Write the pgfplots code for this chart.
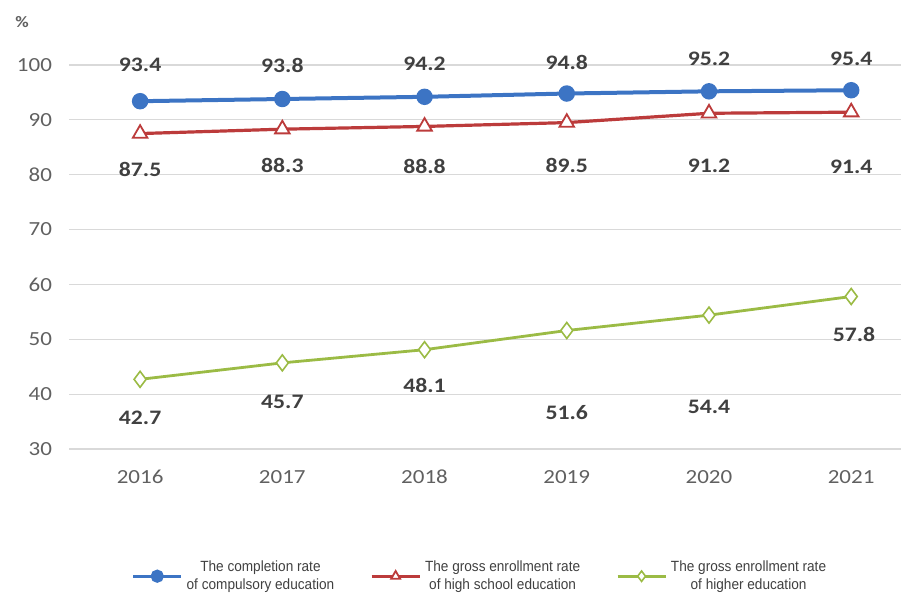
\documentclass[border=0pt]{standalone}
\usepackage{pgfplots}
\pgfplotsset{compat=1.18}
\usepackage{fontspec}
\setmainfont[FakeStretch=1.15]{Carlito}
\newfontfamily\legfont[FakeStretch=0.92]{Liberation Sans}
\definecolor{cblue}{HTML}{3C74C4}
\definecolor{cred}{HTML}{BC3B3B}
\definecolor{cgreen}{HTML}{9BBB45}
\definecolor{cgrid}{HTML}{D9D9D9}
\definecolor{ctick}{HTML}{606060}
\definecolor{clab}{HTML}{404040}
\begin{document}
\begin{tikzpicture}
\begin{axis}[
  scale only axis,
  width=416pt, height=192pt,
  xmin=2015.5, xmax=2021.35,
  ymin=30, ymax=100,
  xtick={2016,...,2021},
  ytick={30,40,...,100},
  xticklabel style={/pgf/number format/1000 sep={}},
  /pgf/number format/assume math mode=true,
  axis line style={draw=none},
  major tick length=0pt,
  ymajorgrids,
  grid style={cgrid, line width=0.6pt},
  tick label style={font=\fontsize{10}{12}\selectfont, text=ctick},
  yticklabel style={xshift=-5pt},
  xticklabel style={yshift=-7pt},
  clip=false,
  legend columns=3,
  legend style={at={(rel axis cs:0.5,0)}, anchor=north, yshift=-51pt, xshift=-2pt, draw=none, fill=none,
    font=\legfont\fontsize{7.4}{9}\selectfont, text=clab,
    /tikz/every even column/.append style={column sep=16pt}},
  legend image code/.code={\draw[mark repeat=2,mark phase=2, mark size=2.6pt, line width=1.4pt] plot coordinates {(0pt,0pt)(12pt,0pt)(24pt,0pt)};},
]
\addplot[cblue, line width=2pt, mark=*, mark size=3.1pt, mark options={fill=cblue}]
  coordinates {(2016,93.4)(2017,93.8)(2018,94.2)(2019,94.8)(2020,95.2)(2021,95.4)};
\addlegendentry{\begin{tabular}[b]{@{}c@{}}The completion rate\\of compulsory education\end{tabular}}
\addplot[cred, line width=1.6pt, mark=triangle*, mark size=4.2pt, mark options={fill=white, line width=0.9pt}]
  coordinates {(2016,87.5)(2017,88.3)(2018,88.8)(2019,89.5)(2020,91.2)(2021,91.4)};
\addlegendentry{\begin{tabular}[b]{@{}c@{}}The gross enrollment rate\\of high school education\end{tabular}}
\addplot[cgreen, line width=1.4pt, mark=diamond*, mark size=4pt, mark options={fill=white, line width=0.8pt}]
  coordinates {(2016,42.7)(2017,45.7)(2018,48.1)(2019,51.6)(2020,54.4)(2021,57.8)};
\addlegendentry{\begin{tabular}[b]{@{}c@{}}The gross enrollment rate\\of higher education\end{tabular}}
% data labels
\begin{scope}[every node/.style={font=\bfseries\fontsize{10.3}{12}\selectfont, text=clab}]
\node at (axis cs:2016,100) {93.4};
\node at (axis cs:2017,100) {93.8};
\node at (axis cs:2018,100.3) {94.2};
\node at (axis cs:2019,100.5) {94.8};
\node at (axis cs:2020,101.2) {95.2};
\node at (axis cs:2021,101.2) {95.4};
\node at (axis cs:2016,80.9) {87.5};
\node at (axis cs:2017,81.7) {88.3};
\node at (axis cs:2018,81.5) {88.8};
\node at (axis cs:2019,81.7) {89.5};
\node at (axis cs:2020,81.7) {91.2};
\node at (axis cs:2021,81.5) {91.4};
\node at (axis cs:2016,35.7) {42.7};
\node at (axis cs:2017,38.6) {45.7};
\node at (axis cs:2018,41.5) {48.1};
\node at (axis cs:2019,36.6) {51.6};
\node at (axis cs:2020,37.7) {54.4};
\node at (axis cs:2021.02,50.8) {57.8};
\end{scope}
\node[font=\bfseries\fontsize{8}{9}\selectfont, text=ctick] at ([xshift=-23.5pt,yshift=21.5pt]rel axis cs:0,1) {\%};
\coordinate (sw) at (rel axis cs:0,0);
\coordinate (ne) at (rel axis cs:1,1);
\end{axis}
\pgfresetboundingbox
\path ([xshift=-34.5pt,yshift=-73.5pt]sw) rectangle ([xshift=1pt,yshift=32.5pt]ne);
\end{tikzpicture}
\end{document}
